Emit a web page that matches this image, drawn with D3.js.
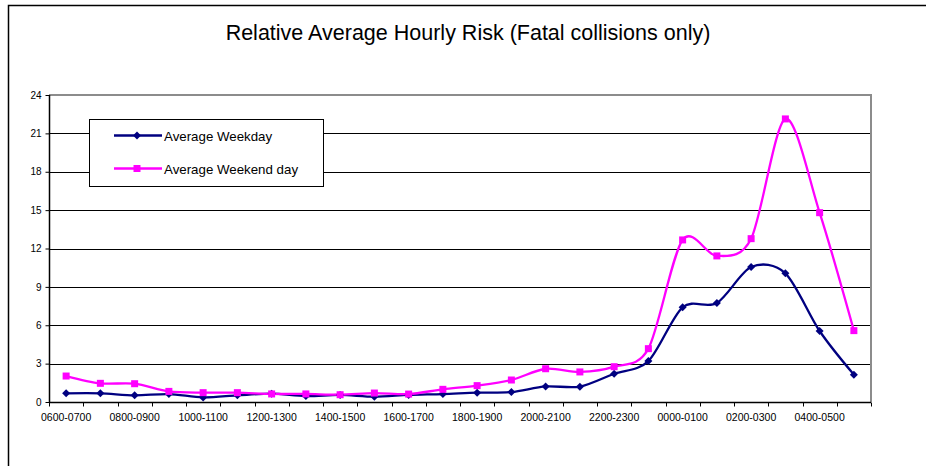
<!DOCTYPE html>
<html>
<head>
<meta charset="utf-8">
<script src="https://cdn.jsdelivr.net/npm/d3@7"></script>
<style>
  body { margin: 0; background: #fff; }
  svg { display: block; font-family: "Liberation Sans", Arial, sans-serif; }
</style>
</head>
<body>
<svg id="chart" width="926" height="466"></svg>
<script>
// Data
var hours = ["0600-0700", "0700-0800", "0800-0900", "0900-1000", "1000-1100", "1100-1200",
             "1200-1300", "1300-1400", "1400-1500", "1500-1600", "1600-1700", "1700-1800",
             "1800-1900", "1900-2000", "2000-2100", "2100-2200", "2200-2300", "2300-0000",
             "0000-0100", "0100-0200", "0200-0300", "0300-0400", "0400-0500", "0500-0600"];
var weekday = [0.68, 0.68, 0.52, 0.62, 0.36, 0.52, 0.65, 0.47, 0.55, 0.42, 0.55, 0.62,
               0.73, 0.78, 1.22, 1.20, 2.21, 3.20, 7.40, 7.74, 10.55, 10.06, 5.55, 2.14];
var weekend = [2.03, 1.46, 1.43, 0.83, 0.73, 0.73, 0.63, 0.63, 0.57, 0.70, 0.62, 0.99,
               1.28, 1.72, 2.60, 2.35, 2.76, 4.17, 12.67, 11.42, 12.77, 22.13, 14.80, 5.58];
var yTicks = [0, 3, 6, 9, 12, 15, 18, 21, 24];
var seriesNames = ["Average Weekday", "Average Weekend day"];

// Set dimensions of the plot area
var plotLeft = 49, plotRight = 871, plotTop = 95, plotBottom = 402;

var svg = d3.select("#chart");

// Outer frame (runs off the right and bottom)
svg.append("rect")
    .attr("x", 8.5).attr("y", 5.5)
    .attr("width", 1000).attr("height", 1000)
    .attr("fill", "#fff")
    .attr("stroke", "#000")
    .attr("stroke-width", 1.5);

// Title
svg.append("text")
    .attr("x", 468).attr("y", 40)
    .attr("text-anchor", "middle")
    .style("font-size", "21.5px")
    .text("Relative Average Hourly Risk (Fatal collisions only)");

// Scales
var x = d3.scaleBand()
    .domain(hours)
    .range([plotLeft, plotRight]);

var y = d3.scaleLinear()
    .domain([0, 24])
    .range([plotBottom, plotTop]);

// Gridlines
svg.append("g")
    .selectAll("line")
    .data(yTicks.slice(1, -1))
    .enter()
    .append("line")
    .attr("x1", plotLeft).attr("x2", plotRight)
    .attr("y1", function(d) { return Math.round(y(d)) + 0.5; })
    .attr("y2", function(d) { return Math.round(y(d)) + 0.5; })
    .attr("stroke", "#000")
    .attr("stroke-width", 1);

// Plot area border (top and right, grey)
svg.append("path")
    .attr("d", "M" + plotLeft + "," + plotTop + "H" + plotRight + "V" + plotBottom)
    .attr("fill", "none")
    .attr("stroke", "#8c8c8c")
    .attr("stroke-width", 2);

// Y axis
var yAxis = svg.append("g")
    .attr("transform", "translate(" + (plotLeft + 0.5) + ",0)")
    .call(d3.axisLeft(y).tickValues(yTicks).tickSize(4).tickPadding(4));
yAxis.selectAll("text").style("font-size", "10px").style("font-family", "inherit").attr("fill", "#000");
yAxis.selectAll("line").attr("stroke", "#000");
yAxis.select(".domain").attr("stroke", "#000").attr("stroke-width", 1.5).attr("d", "M0," + plotTop + "V" + plotBottom);

// X axis: ticks on category boundaries, labels on every other category
var xAxis = svg.append("g")
    .attr("transform", "translate(0," + (plotBottom + 0.5) + ")");
xAxis.append("path")
    .attr("d", "M" + plotLeft + ",0H" + plotRight)
    .attr("stroke", "#000")
    .attr("stroke-width", 1.5);
xAxis.selectAll(".tick")
    .data(d3.range(hours.length + 1))
    .enter()
    .append("line")
    .attr("class", "tick")
    .attr("x1", function(i) { return Math.round(plotLeft + i * x.step()) + 0.5; })
    .attr("x2", function(i) { return Math.round(plotLeft + i * x.step()) + 0.5; })
    .attr("y1", 0).attr("y2", 4)
    .attr("stroke", "#000");
xAxis.selectAll(".label")
    .data(hours.filter(function(d, i) { return i % 2 === 0; }))
    .enter()
    .append("text")
    .attr("class", "label")
    .attr("x", function(d) { return x(d) + x.bandwidth() / 2; })
    .attr("y", 18)
    .attr("text-anchor", "middle")
    .style("font-size", "10.5px")
    .text(function(d) { return d; });

// Lines
var line = d3.line()
    .x(function(d, i) { return x(hours[i]) + x.bandwidth() / 2; })
    .y(function(d) { return y(d); })
    .curve(d3.curveCardinal.tension(0.1));

svg.append("path")
    .datum(weekday)
    .attr("fill", "none")
    .attr("stroke", "#000080")
    .attr("stroke-width", 2.3)
    .attr("d", line);

svg.append("path")
    .datum(weekend)
    .attr("fill", "none")
    .attr("stroke", "#ff00ff")
    .attr("stroke-width", 2.3)
    .attr("d", line);

// Markers
svg.append("g")
    .selectAll("path")
    .data(weekday)
    .enter()
    .append("path")
    .attr("d", "M0,-4L4,0L0,4L-4,0Z")
    .attr("transform", function(d, i) { return "translate(" + (x(hours[i]) + x.bandwidth() / 2) + "," + y(d) + ")"; })
    .attr("fill", "#000080");

svg.append("g")
    .selectAll("rect")
    .data(weekend)
    .enter()
    .append("rect")
    .attr("x", function(d, i) { return x(hours[i]) + x.bandwidth() / 2 - 3.5; })
    .attr("y", function(d) { return y(d) - 3.5; })
    .attr("width", 7).attr("height", 7)
    .attr("fill", "#ff00ff");

// Legend
var legend = svg.append("g");
legend.append("rect")
    .attr("x", 89.5).attr("y", 119.5)
    .attr("width", 234).attr("height", 67)
    .attr("fill", "#fff")
    .attr("stroke", "#000");

var legendColors = ["#000080", "#ff00ff"];
var legenditem = legend.selectAll(".legenditem")
    .data(seriesNames)
    .enter()
    .append("g")
    .attr("class", "legenditem")
    .attr("transform", function(d, i) { return "translate(0," + (135.5 + i * 33) + ")"; });

legenditem.append("line")
    .attr("x1", 114).attr("x2", 162)
    .attr("stroke", function(d, i) { return legendColors[i]; })
    .attr("stroke-width", 2.3);

legenditem.append("path")
    .attr("d", function(d, i) { return i === 0 ? "M137,-4L141,0L137,4L133,0Z" : "M133.5,-3.5h7v7h-7Z"; })
    .attr("fill", function(d, i) { return legendColors[i]; });

legenditem.append("text")
    .attr("x", 164)
    .attr("y", 5)
    .style("font-size", "13.3px")
    .text(function(d) { return d; });
</script>
</body>
</html>
